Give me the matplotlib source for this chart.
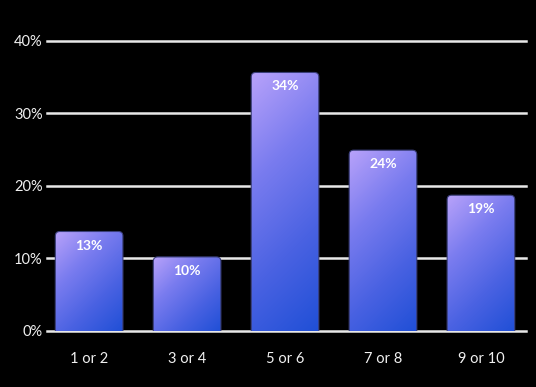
import numpy as np
import matplotlib.pyplot as plt
from matplotlib.patches import FancyBboxPatch
from matplotlib.colors import LinearSegmentedColormap

categories = ["1 or 2", "3 or 4", "5 or 6", "7 or 8", "9 or 10"]
shares = [13.7, 10.2, 35.6, 24.9, 18.7]
share_labels = ["13%", "10%", "34%", "24%", "19%"]
yticks = [0, 10, 20, 30, 40]
ytick_labels = ["0%", "10%", "20%", "30%", "40%"]

bar_cmap = LinearSegmentedColormap.from_list(
    "barfade", ["#b8a2fa", "#7a7cef", "#4a62e2", "#1f4fd6"])

fig = plt.figure(figsize=(5.36, 3.87), dpi=100, facecolor="black")
ax = fig.add_axes([47 / 536, 1 - 331 / 387, 479 / 536, 290.5 / 387])
ax.set_facecolor("black")

x = np.arange(len(categories))
bars = ax.bar(x, shares, width=0.69, color="none", zorder=3)

ax.set_xlim(-0.43, 4.46)
ax.set_ylim(0, 40)

# grid lines behind the bars
for t in yticks:
    ax.axhline(t, color="#e8e8e8", lw=1.8, zorder=1, clip_on=False)

# pixel scale for rounding and gradient
fig.canvas.draw()
px_x = ax.transData.transform((1, 0))[0] - ax.transData.transform((0, 0))[0]
px_y = ax.transData.transform((0, 1))[1] - ax.transData.transform((0, 0))[1]
radius_px = 4.5

for b, lab in zip(bars, share_labels):
    x0, w, h = b.get_x(), b.get_width(), b.get_height()
    box = FancyBboxPatch((x0, -2), w, h + 2,
                         boxstyle="round,pad=0,rounding_size=%f" % (radius_px / px_x),
                         mutation_aspect=px_x / px_y,
                         facecolor="none", edgecolor="#3a3f7a", lw=0.8, zorder=4)
    ax.add_patch(box)
    wp, hp = int(w * px_x), int(h * px_y)
    xx, yy = np.meshgrid(np.arange(wp), np.arange(hp))
    t = (xx + yy) / float(wp + hp)
    im = ax.imshow(t, cmap=bar_cmap, vmin=0, vmax=1, aspect="auto",
                   extent=(x0, x0 + w, 0, h), origin="upper", zorder=3,
                   interpolation="bilinear")
    im.set_clip_path(box)
    ax.text(x0 + w / 2, h - 14 / px_y, lab, ha="center", va="center",
            color="white", fontsize=10, fontweight="bold", family="Lato", zorder=5)

ax.set_xlim(-0.43, 4.46)
ax.set_ylim(0, 40)

ax.set_yticks(yticks)
ax.set_yticklabels(ytick_labels)
ax.set_xticks(x)
ax.set_xticklabels(categories)
ax.tick_params(axis="both", length=0, colors="#f0f0f0", labelsize=10.5)
ax.tick_params(axis="y", pad=3)
ax.tick_params(axis="x", pad=15)
for lbl in ax.get_xticklabels() + ax.get_yticklabels():
    lbl.set_family("Lato")
for s in ax.spines.values():
    s.set_visible(False)

fig.savefig("out.png", dpi=100, facecolor="black")
